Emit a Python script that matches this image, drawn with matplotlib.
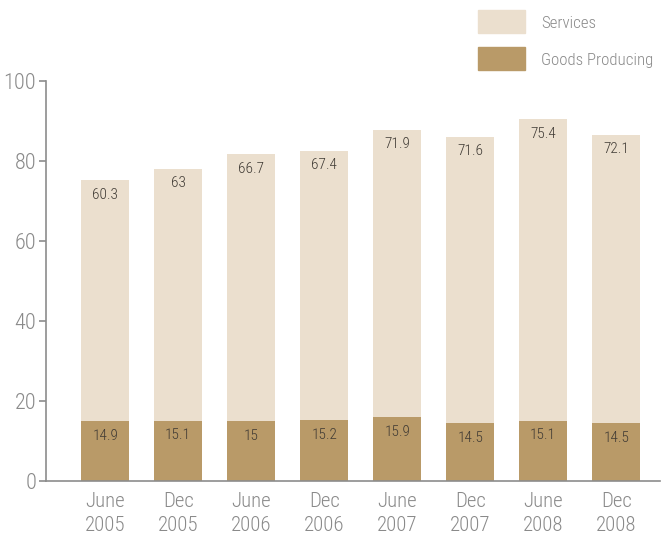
import matplotlib
matplotlib.use("Agg")
import matplotlib.pyplot as plt
from matplotlib.patches import Rectangle
import matplotlib.font_manager as fm

periods = ["June\n2005", "Dec\n2005", "June\n2006", "Dec\n2006",
           "June\n2007", "Dec\n2007", "June\n2008", "Dec\n2008"]
goods_producing = [14.9, 15.1, 15, 15.2, 15.9, 14.5, 15.1, 14.5]
services = [60.3, 63, 66.7, 67.4, 71.9, 71.6, 75.4, 72.1]
y_ticks = [0, 20, 40, 60, 80, 100]

names = {f.name for f in fm.fontManager.ttflist}
fam = [n for n in ["Roboto Condensed", "Liberation Sans Narrow", "Roboto"] if n in names] + ["DejaVu Sans"]
plt.rcParams["font.family"] = fam
plt.rcParams["font.weight"] = "light"

C_SERV = "#ebdfce"
C_GOODS = "#b99a68"
C_AXIS = "#8c8c8c"
C_TEXT = "#8a8a8a"
C_VAL = "#3f3a34"

fig = plt.figure(figsize=(6.63, 5.35), dpi=100)
ax = fig.add_axes([46 / 663, 1 - 481 / 535, 614 / 663, 400 / 535])

x = list(range(len(periods)))
w = 0.66
ax.bar(x, goods_producing, width=w, color=C_GOODS, zorder=2)
ax.bar(x, services, width=w, bottom=goods_producing, color=C_SERV, zorder=2)

for xi, g, s in zip(x, goods_producing, services):
    ax.annotate(f"{g:g}", (xi, g), xytext=(0, -5.5), textcoords="offset points",
                ha="center", va="top", fontsize=11, color=C_VAL)
    ax.annotate(f"{s:g}", (xi, g + s), xytext=(0, -5.5), textcoords="offset points",
                ha="center", va="top", fontsize=11, color=C_VAL)

ax.set_xlim(-0.81, 7.6)
ax.set_ylim(0, 100)
ax.set_yticks(y_ticks)
ax.set_xticks(x)
ax.set_xticklabels(periods, fontsize=15, color=C_TEXT, linespacing=1.35)
ax.tick_params(axis="x", length=0, pad=8)
ax.tick_params(axis="y", length=5, width=1.2, color=C_AXIS, labelsize=16,
               labelcolor=C_TEXT, pad=2)
for side in ("top", "right"):
    ax.spines[side].set_visible(False)
for side in ("left", "bottom"):
    ax.spines[side].set_color(C_AXIS)
    ax.spines[side].set_linewidth(1.2)

# legend swatches and labels
W, H = 663, 535
for y0, col, label in [(10, C_SERV, "Services"), (47, C_GOODS, "Goods Producing")]:
    fig.patches.append(Rectangle((478 / W, 1 - (y0 + 23) / H), 47 / W, 23 / H,
                                 transform=fig.transFigure, color=col))
    fig.text(541 / W, 1 - (y0 + 13) / H, label, fontsize=12.2, color=C_TEXT,
             va="center", ha="left")

fig.savefig("out.png", dpi=100)
